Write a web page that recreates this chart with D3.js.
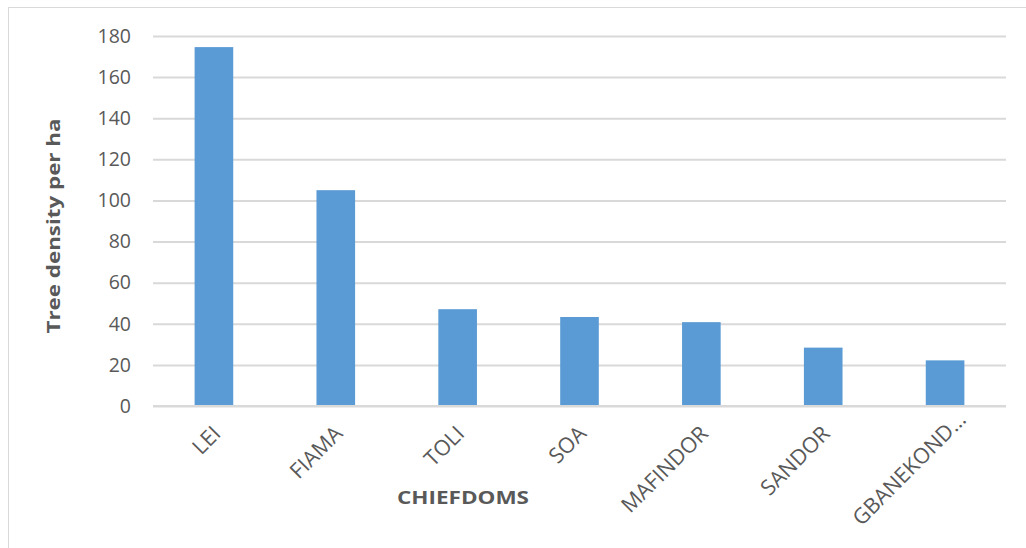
<!DOCTYPE html>
<html><head><meta charset="utf-8">
<script src="https://cdn.jsdelivr.net/npm/d3@7"></script>
<style>body{margin:0;background:#fff;} svg{display:block;}</style>
</head><body>
<svg id="c" width="1026" height="548"></svg>
<script>
const categories = ["LEI","FIAMA","TOLI","SOA","MAFINDOR","SANDOR","GBANEKOND…"];
const values = [174.6, 105, 47.1, 43.3, 40.8, 28.4, 22.2];
const yTicks = [0,20,40,60,80,100,120,140,160,180];
const yTitle = "Tree density per ha";
const xTitle = "CHIEFDOMS";

const svg = d3.select("#c");
const font = "'Open Sans', 'Noto Sans', sans-serif";
// outer frame
svg.append("rect").attr("x",8.5).attr("y",7.5).attr("width",1030).attr("height",560)
  .attr("fill","none").attr("stroke","#d9d9d9").attr("stroke-width",1);

const L=153, R=1006, T=36, B=406;
const x = d3.scaleBand().domain(categories).range([L,R]).paddingInner(0.683).paddingOuter(0.3415);
const y = d3.scaleLinear().domain([0,180]).range([B,T]);

const yAxis = svg.append("g").attr("transform",`translate(${L},0)`)
  .call(d3.axisLeft(y).tickValues(yTicks).tickSize(-(R-L)).tickPadding(22));
yAxis.select(".domain").remove();
yAxis.selectAll(".tick line").attr("stroke","#d9d9d9").attr("stroke-width",2);
yAxis.selectAll(".tick text").attr("fill","#595959").style("font-family",font).style("font-size","19.5px");

svg.append("g").selectAll("rect").data(values).join("rect")
  .attr("x",(d,i)=>x(categories[i])).attr("width",x.bandwidth())
  .attr("y",d=>y(d)).attr("height",d=>B-y(d)).attr("fill","#5b9bd5");

// baseline drawn over bars
svg.append("line").attr("x1",L).attr("x2",R).attr("y1",B).attr("y2",B)
  .attr("stroke","#d9d9d9").attr("stroke-width",2);

const xAxis = svg.append("g").attr("transform",`translate(0,${B})`)
  .call(d3.axisBottom(x).tickSize(0).tickPadding(0));
xAxis.select(".domain").remove();
xAxis.selectAll(".tick text")
  .attr("fill","#595959").style("font-family",font).style("font-size","21.5px")
  .attr("text-anchor","end").attr("dy",null).attr("y",null)
  .attr("dx",d=>d.endsWith("…") ? 20 : 0)
  .attr("transform","translate(8,29) rotate(-45)");

svg.append("text").attr("x",463).attr("y",504).attr("text-anchor","middle")
  .attr("fill","#595959").style("font-family",font).style("font-size","18px").style("font-weight","bold")
  .attr("textLength",132).attr("lengthAdjust","spacingAndGlyphs").text(xTitle);

svg.append("text").attr("transform","translate(60,226) rotate(-90)").attr("text-anchor","middle")
  .attr("fill","#595959").style("font-family",font).style("font-size","18px").style("font-weight","bold")
  .attr("textLength",215).attr("lengthAdjust","spacingAndGlyphs").text(yTitle);
</script>
</body></html>
